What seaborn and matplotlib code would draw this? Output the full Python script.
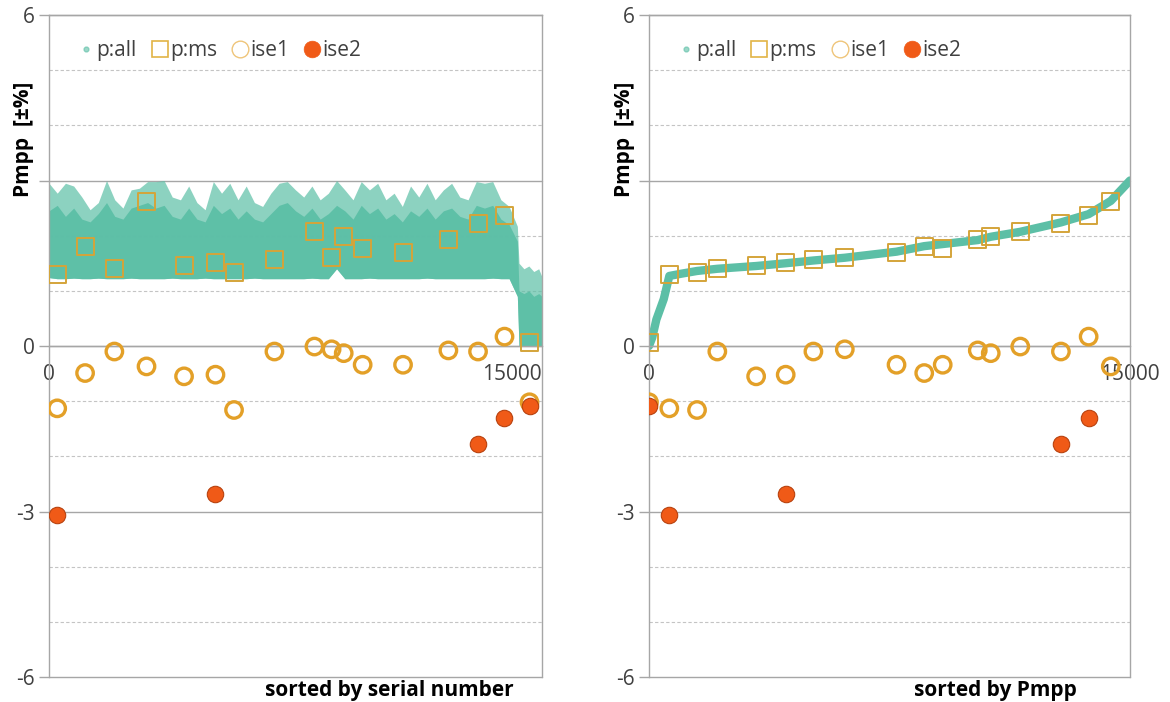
import numpy as np
import pandas as pd
import matplotlib
matplotlib.use("Agg")
import matplotlib.pyplot as plt
import seaborn as sns
from matplotlib.lines import Line2D

# ---------------- data ----------------
# 17 individually measured modules
ms_serial = [250, 1098, 1989, 2967, 4109, 5065, 5630, 6859, 8076, 8598, 8967, 9543, 10772, 12152, 13054, 13859, 14620]
ms_rank = [634, 8583, 2131, 14401, 3341, 4263, 1498, 5127, 11578, 6106, 10657, 9159, 7719, 10253, 12846, 13710, 0]
ms_p = [1.30, 1.81, 1.40, 2.62, 1.46, 1.51, 1.34, 1.57, 2.08, 1.60, 1.98, 1.76, 1.69, 1.93, 2.22, 2.37, 0.07]
ise1 = [-1.13, -0.49, -0.10, -0.37, -0.55, -0.52, -1.16, -0.10, -0.01, -0.06, -0.13, -0.34, -0.34, -0.08, -0.10, 0.17, -1.02]
ise2 = [-3.07, np.nan, np.nan, np.nan, np.nan, -2.68, np.nan, np.nan, np.nan, np.nan, np.nan, np.nan, np.nan, np.nan, -1.78, -1.31, -1.08]

# p:all cloud by serial number: envelope of the point cloud
cloud_x = [0, 250, 500, 750, 1000, 1250, 1500, 1750, 2000, 2250, 2500, 2750, 3000, 3250, 3500, 3750,
           4000, 4250, 4500, 4750, 5000, 5250, 5500, 5750, 6000, 6250, 6500, 6750, 7000, 7250, 7500,
           7750, 8000, 8250, 8500, 8750, 9000, 9250, 9500, 9750, 10000, 10250, 10500, 10750, 11000,
           11250, 11500, 11750, 12000, 12250, 12500, 12750, 13000, 13250, 13500, 13750, 14000, 14250,
           14300, 14450, 14600, 14750, 14900, 15000]
cloud_low = [1.24, 1.22, 1.22, 1.23, 1.22, 1.22, 1.23, 1.22, 1.22, 1.22, 1.23, 1.22, 1.22, 1.22, 1.22, 1.23,
             1.22, 1.22, 1.22, 1.23, 1.22, 1.22, 1.22, 1.22, 1.22, 1.23, 1.22, 1.22, 1.22, 1.22, 1.22,
             1.22, 1.23, 1.22, 1.22, 1.40, 1.22, 1.22, 1.22, 1.23, 1.22, 1.22, 1.22, 1.22, 1.22,
             1.22, 1.23, 1.22, 1.22, 1.22, 1.22, 1.22, 1.22, 1.22, 1.23, 1.22, 1.22, 0.90,
             0.00, 0.00, 0.00, 0.00, 0.00, 0.00]
cloud_core = [2.45, 2.55, 2.35, 2.50, 2.30, 2.25, 2.40, 2.60, 2.35, 2.30, 2.50, 2.55, 2.60, 2.50, 2.55, 2.35,
              2.30, 2.50, 2.30, 2.25, 2.55, 2.40, 2.50, 2.30, 2.45, 2.30, 2.25, 2.40, 2.55, 2.60, 2.45,
              2.35, 2.50, 2.30, 2.40, 2.55, 2.45, 2.30, 2.55, 2.40, 2.50, 2.30, 2.40, 2.25, 2.45,
              2.35, 2.50, 2.30, 2.45, 2.50, 2.35, 2.30, 2.55, 2.50, 2.55, 2.30, 2.20, 1.90,
              1.00, 0.95, 1.00, 0.90, 0.95, 0.90]
cloud_top = [2.95, 2.77, 2.95, 2.90, 2.70, 2.47, 2.60, 3.00, 2.65, 2.50, 2.83, 2.86, 2.98, 2.98, 3.00, 2.70,
             2.65, 2.90, 2.60, 2.47, 2.98, 2.77, 2.95, 2.65, 2.90, 2.60, 2.53, 2.77, 2.95, 2.98, 2.83,
             2.70, 2.90, 2.65, 2.77, 3.00, 2.83, 2.65, 2.98, 2.83, 2.95, 2.65, 2.77, 2.53, 2.90,
             2.70, 2.95, 2.65, 2.83, 2.95, 2.70, 2.65, 2.98, 2.95, 2.98, 2.65, 2.53, 2.17,
             1.50, 1.40, 1.45, 1.35, 1.40, 1.25]

# p:all sorted by Pmpp (curve)
sorted_x = [0, 100, 230, 460, 634, 1000, 1498, 2131, 3341, 4263, 5127, 6106, 7719, 8583, 10253,
            10657, 11578, 12846, 13710, 14401, 15000]
sorted_y = [0.00, 0.15, 0.48, 0.85, 1.27, 1.31, 1.36, 1.40, 1.45, 1.50, 1.55, 1.60, 1.71, 1.81, 1.92,
            1.98, 2.07, 2.24, 2.39, 2.63, 3.00]

x_ticks = [0, 15000]
x_tick_labels = ["0", "15000"]
y_major = [-6, -3, 0, 3, 6]
y_major_labels = ["-6", "-3", "0", "", "6"]
y_minor = [-5, -4, -2, -1, 1, 2, 4, 5]
titles = ["sorted by serial number", "sorted by Pmpp"]
ylab = "Pmpp  [±%]"
legend_labels = ["p:all", "p:ms", "ise1", "ise2"]

# ---------------- style ----------------
sns.set_theme(style="white")
plt.rcParams["font.family"] = ["Open Sans", "DejaVu Sans"]

TEAL = "#5CBFA6"
SQ = "#D4A43A"
C1 = "#E3A028"
C2F = "#F05A17"
C2E = "#B8420F"
GRID = "#A6A6A6"
TXT = "#404040"
FS = 15

ms = pd.DataFrame({"serial": ms_serial, "rank": ms_rank, "p": ms_p, "ise1": ise1, "ise2": ise2})

fig = plt.figure(figsize=(11.7, 7.02), dpi=100)
W, H = 1170, 702
ax1 = fig.add_axes([49 / W, 1 - 677 / H, (542 - 49) / W, (677 - 15) / H])
ax2 = fig.add_axes([649 / W, 1 - 677 / H, (1130 - 649) / W, (677 - 15) / H])


def style_axes(ax, xcol, title, title_x, last_ha):
    # measured modules
    sns.scatterplot(data=ms, x=xcol, y="p", ax=ax, marker="s", s=150, fc="none",
                    ec=SQ, linewidth=1.4, zorder=4, legend=False)
    sns.scatterplot(data=ms, x=xcol, y="ise1", ax=ax, marker="o", s=140, fc="none",
                    ec=C1, linewidth=2.4, zorder=5, legend=False)
    sns.scatterplot(data=ms.dropna(subset=["ise2"]), x=xcol, y="ise2", ax=ax, marker="o", s=140,
                    fc=C2F, ec=C2E, linewidth=0.8, zorder=6, legend=False)

    ax.set_xlim(0, 15000)
    ax.set_ylim(-6, 6)
    ax.set_yticks(y_major)
    ax.set_yticklabels(y_major_labels)
    ax.set_yticks(y_minor, minor=True)
    ax.grid(False)
    for v in y_major:
        ax.axhline(v, color=GRID, lw=1.0, zorder=0.5, clip_on=False)
    for v in y_minor:
        ax.axhline(v, color="#C4C4C4", lw=0.8, ls=(0, (3, 2)), zorder=0.5)
    for s in ax.spines.values():
        s.set_color(GRID)
        s.set_linewidth(1.0)
    ax.spines["bottom"].set_position(("data", 0))
    ax.tick_params(axis="y", which="major", length=7, width=1, color=GRID, pad=3,
                   labelsize=FS, labelcolor=TXT, left=True)
    ax.tick_params(axis="y", which="minor", length=0)
    ax.set_xticks(x_ticks)
    ax.set_xticklabels(x_tick_labels)
    ax.tick_params(axis="x", length=0, pad=13, labelsize=FS, labelcolor=TXT, bottom=True)
    ax.get_xticklabels()[-1].set_ha(last_ha)
    ax.set_xlabel("")
    ax.set_ylabel(ylab, fontsize=FS, fontweight="bold", color="black")
    ax.yaxis.set_label_coords(-0.030, 0.812)
    ax.text(title_x, -0.02, title, transform=ax.transAxes, ha="center", va="center",
            fontsize=FS, fontweight="bold", color="black")

    handles = [
        Line2D([], [], ls="none", marker="o", ms=3.5, mfc=TEAL, mec=TEAL, alpha=0.6),
        Line2D([], [], ls="none", marker="s", ms=12, mfc="none", mec="#E2B445", mew=1.2),
        Line2D([], [], ls="none", marker="o", ms=12, mfc="none", mec="#EFC57A", mew=1.0),
        Line2D([], [], ls="none", marker="o", ms=12, mfc=C2F, mec=C2F, mew=0.5),
    ]
    ax.legend(handles, legend_labels, ncol=4, loc="upper left",
              bbox_to_anchor=(0.02, 0.99), frameon=False, fontsize=FS,
              handlelength=0.8, handletextpad=0.1, columnspacing=0.7,
              labelcolor=TXT)
    return ax


# left: p:all cloud by serial number
ax1.fill_between(cloud_x, cloud_low, cloud_top, color=TEAL, alpha=0.7, lw=0, zorder=1)
ax1.fill_between(cloud_x, cloud_low, cloud_core, color=TEAL, alpha=0.95, lw=0, zorder=2)
style_axes(ax1, "serial", titles[0], 0.69, "right")

# right: sorted curve
sns.lineplot(x=sorted_x, y=sorted_y, ax=ax2, color=TEAL, lw=6, zorder=2, sort=False)
style_axes(ax2, "rank", titles[1], 0.72, "center")

fig.savefig("out.png", dpi=100)
